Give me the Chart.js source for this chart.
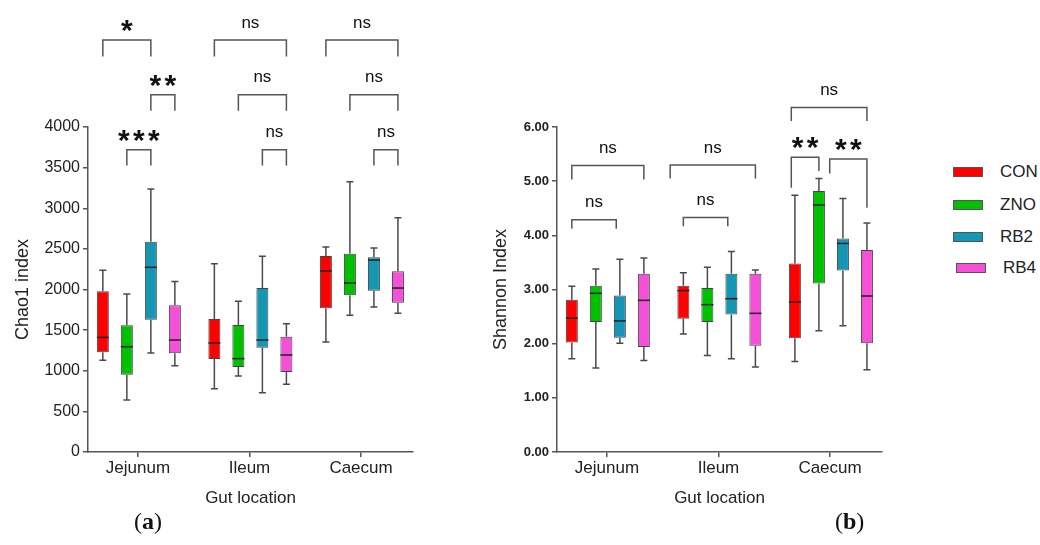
<!DOCTYPE html>
<html>
<head>
<meta charset="utf-8">
<script src="https://cdn.jsdelivr.net/npm/chart.js@4.4.1/dist/chart.umd.min.js"></script>
<style>
  body { margin: 0; background: #fff; width: 1040px; height: 545px; position: relative; overflow: hidden; font-family: "Liberation Sans", Arial, sans-serif; }
  canvas { position: absolute; top: 0; }
  #chao { left: 0; }
  #shannon { left: 469px; }
  .item { position: absolute; left: 953px; height: 20px; line-height: 20px; display: flex; align-items: center; white-space: nowrap; font-size: 17px; color: #222; }
  .sw { width: 28px; height: 8px; border: 1px solid #555; margin-right: 17px; }
  .tag { position: absolute; top: 508px; font-family: "Liberation Serif", serif; font-size: 24px; color: #111; }
</style>
</head>
<body>
<canvas id="chao" width="470" height="515"></canvas>
<canvas id="shannon" width="470" height="515"></canvas>
<div id="legend"></div>
<div class="tag" style="left:134px">(<b>a</b>)</div>
<div class="tag" style="left:835px">(<b>b</b>)</div>
<script>
const locations = ['Jejunum', 'Ileum', 'Caecum'];
const groups = ['CON', 'ZNO', 'RB2', 'RB4'];
const colors = ['#ff0000', '#00c000', '#1597b4', '#f450d8'];

// [min, q1, median, q3, max] for Jejunum, Ileum, Caecum
const chaoCON = [[1128, 1227, 1411, 1977, 2236], [779, 1145, 1342, 1637, 2318], [1354, 1768, 2228, 2412, 2523]];
const chaoZNO = [[640, 952, 1296, 1559, 1945], [935, 1046, 1149, 1563, 1854], [1682, 1928, 2080, 2441, 3327]];
const chaoRB2 = [[1218, 1629, 2273, 2589, 3237], [730, 1284, 1378, 2018, 2408], [1785, 1986, 2363, 2396, 2511]];
const chaoRB4 = [[1063, 1214, 1378, 1805, 2100], [833, 985, 1194, 1419, 1579], [1707, 1838, 2018, 2224, 2884]];

const shanCON = [[1.72, 2.02, 2.47, 2.81, 3.06], [2.18, 2.46, 2.98, 3.07, 3.31], [1.67, 2.10, 2.77, 3.48, 4.74]];
const shanZNO = [[1.55, 2.40, 2.93, 3.07, 3.38], [1.78, 2.40, 2.72, 3.03, 3.41], [2.24, 3.11, 4.56, 4.82, 5.05]];
const shanRB2 = [[2.01, 2.11, 2.42, 2.89, 3.56], [1.72, 2.54, 2.83, 3.29, 3.70], [2.33, 3.35, 3.85, 3.94, 4.68]];
const shanRB4 = [[1.69, 1.94, 2.80, 3.29, 3.58], [1.57, 1.96, 2.56, 3.29, 3.36], [1.52, 2.01, 2.88, 3.73, 4.23]];

// significance brackets: location, from/to box index, bracket top, leg ends, label
const chaoMarks = [
  { loc: 0, from: 0, to: 2, top: 5071, endA: 4869, endB: 4869, label: '*' },
  { loc: 1, from: 0, to: 3, top: 5071, endA: 4869, endB: 4869, label: 'ns' },
  { loc: 2, from: 0, to: 3, top: 5071, endA: 4869, endB: 4869, label: 'ns' },
  { loc: 0, from: 2, to: 3, top: 4398, endA: 4200, endB: 4200, label: '**' },
  { loc: 1, from: 1, to: 3, top: 4398, endA: 4200, endB: 4200, label: 'ns' },
  { loc: 2, from: 1, to: 3, top: 4398, endA: 4200, endB: 4200, label: 'ns' },
  { loc: 0, from: 1, to: 2, top: 3721, endA: 3527, endB: 3527, label: '***' },
  { loc: 1, from: 2, to: 3, top: 3721, endA: 3527, endB: 3527, label: 'ns' },
  { loc: 2, from: 2, to: 3, top: 3721, endA: 3527, endB: 3527, label: 'ns' }
];
const shanMarks = [
  { loc: 0, from: 0, to: 3, top: 5.29, endA: 5.03, endB: 5.03, label: 'ns' },
  { loc: 0, from: 0, to: 1.85, top: 4.29, endA: 4.12, endB: 4.12, label: 'ns' },
  { loc: 1, from: -0.55, to: 3, top: 5.30, endA: 5.05, endB: 5.05, label: 'ns' },
  { loc: 1, from: 0, to: 1.85, top: 4.33, endA: 4.17, endB: 4.17, label: 'ns' },
  { loc: 2, from: -0.15, to: 3, top: 6.36, endA: 6.11, endB: 6.11, label: 'ns' },
  { loc: 2, from: -0.15, to: 1, top: 5.44, endA: 4.88, endB: 5.19, label: '**' },
  { loc: 2, from: 1.45, to: 3, top: 5.41, endA: 5.14, endB: 4.51, label: '**' }
];

const axisColor = '#555';
const boxX = (loc, i) => loc + 1 - 0.315 + i * 0.2153;

// legend on the right
const legend = document.getElementById('legend');
[172, 205, 237, 268].forEach((cy, i) => {
  const d = document.createElement('div');
  d.className = 'item';
  d.style.top = (cy - 10) + 'px';
  if (i === 3) d.style.left = '956px';
  d.innerHTML = '<span class="sw" style="background:' + colors[i] + '"></span>' + groups[i];
  legend.appendChild(d);
});

const whiskers = {
  id: 'whiskers',
  afterDatasetsDraw(chart) {
    const ctx = chart.ctx, y = chart.scales.y;
    ctx.save();
    chart.data.datasets.forEach((ds, d) => {
      chart.getDatasetMeta(d).data.forEach((bar, i) => {
        const s = ds.stats[i];
        const x = bar.x, half = bar.width / 2;
        ctx.strokeStyle = '#4a4a4a';
        ctx.lineWidth = 1.5;
        ctx.beginPath();
        ctx.moveTo(x, y.getPixelForValue(s[3])); ctx.lineTo(x, y.getPixelForValue(s[4]));
        ctx.moveTo(x - 3.5, y.getPixelForValue(s[4])); ctx.lineTo(x + 3.5, y.getPixelForValue(s[4]));
        ctx.moveTo(x, y.getPixelForValue(s[1])); ctx.lineTo(x, y.getPixelForValue(s[0]));
        ctx.moveTo(x - 3.5, y.getPixelForValue(s[0])); ctx.lineTo(x + 3.5, y.getPixelForValue(s[0]));
        ctx.stroke();
        ctx.strokeStyle = '#222';
        ctx.beginPath();
        ctx.moveTo(x - half, y.getPixelForValue(s[2])); ctx.lineTo(x + half, y.getPixelForValue(s[2]));
        ctx.stroke();
      });
    });
    ctx.restore();
  }
};

function bracketPlugin(marks) {
  return {
    id: 'brackets',
    afterDraw(chart) {
      const ctx = chart.ctx, xs = chart.scales.x, ys = chart.scales.y;
      ctx.save();
      ctx.strokeStyle = axisColor;
      ctx.lineWidth = 1.5;
      ctx.fillStyle = '#111';
      marks.forEach(m => {
        const x1 = xs.getPixelForValue(boxX(m.loc, m.from));
        const x2 = xs.getPixelForValue(boxX(m.loc, m.to));
        const yt = ys.getPixelForValue(m.top);
        ctx.beginPath();
        ctx.moveTo(x1, ys.getPixelForValue(m.endA));
        ctx.lineTo(x1, yt); ctx.lineTo(x2, yt);
        ctx.lineTo(x2, ys.getPixelForValue(m.endB));
        ctx.stroke();
        const cx = (x1 + x2) / 2, cy = yt - 17;
        if (m.label.startsWith('*')) {
          ctx.font = 'bold 30px "Liberation Sans"';
          ctx.textAlign = 'center';
          ctx.textBaseline = 'alphabetic';
          const n = m.label.length;
          for (let k = 0; k < n; k++) {
            ctx.fillText('*', cx + (k - (n - 1) / 2) * 15, cy + 17);
          }
        } else {
          ctx.font = '17px "Liberation Sans"';
          ctx.textAlign = 'center';
          ctx.textBaseline = 'middle';
          ctx.fillText(m.label, cx, cy);
        }
      });
      ctx.restore();
    }
  };
}

function boxChart(id, stats, marks, yMax, yStep, yFmt, yFont, yTitle, yTitlePad) {
  return new Chart(document.getElementById(id), {
    type: 'bar',
    data: {
      datasets: groups.map((g, gi) => ({
        label: g,
        data: stats[gi].map((s, li) => ({ x: boxX(li, gi), y: [s[1], s[3]] })),
        stats: stats[gi],
        backgroundColor: colors[gi],
        borderColor: '#444',
        borderWidth: 1,
        borderSkipped: false,
        grouped: false,
        maxBarThickness: 12,
        barPercentage: 0.9
      }))
    },
    options: {
      responsive: false,
      animation: false,
      layout: { padding: { left: 0, top: 127, right: 57, bottom: 0 } },
      plugins: { legend: { display: false }, tooltip: { enabled: false } },
      scales: {
        x: {
          type: 'linear',
          offset: false,
          min: 0.552,
          max: 3.466,
          afterFit: s => { s.height = 63; },
          grid: { offset: false, drawOnChartArea: false, tickLength: 5, color: axisColor, lineWidth: 1.5 },
          border: { display: true, color: axisColor, width: 1.5 },
          ticks: {
            stepSize: 1,
            includeBounds: false,
            padding: 1,
            color: '#222',
            font: { family: 'Liberation Sans', size: 17 },
            callback: v => locations[Math.round(v) - 1] || ''
          },
          title: { display: true, text: 'Gut location', color: '#222', font: { family: 'Liberation Sans', size: 17 }, padding: { bottom: 6 } }
        },
        y: {
          min: 0,
          max: yMax,
          afterFit: s => { s.width = 88; },
          grid: { drawOnChartArea: false, tickLength: 5, color: axisColor, lineWidth: 1.5 },
          border: { display: true, color: axisColor, width: 1.5 },
          ticks: { stepSize: yStep, padding: 3, color: '#222', font: yFont, callback: yFmt },
          title: { display: true, text: yTitle, color: '#222', font: { family: 'Liberation Sans', size: 18 }, padding: { top: yTitlePad } }
        }
      }
    },
    plugins: [whiskers, bracketPlugin(marks)]
  });
}

boxChart('chao', [chaoCON, chaoZNO, chaoRB2, chaoRB4], chaoMarks, 4000, 500, v => v,
  { family: 'Liberation Sans', size: 16 }, 'Chao1 index', 12);
boxChart('shannon', [shanCON, shanZNO, shanRB2, shanRB4], shanMarks, 6, 1, v => v.toFixed(2),
  { family: 'Liberation Sans', size: 13, weight: 'bold' }, 'Shannon Index', 21);
</script>
</body>
</html>
